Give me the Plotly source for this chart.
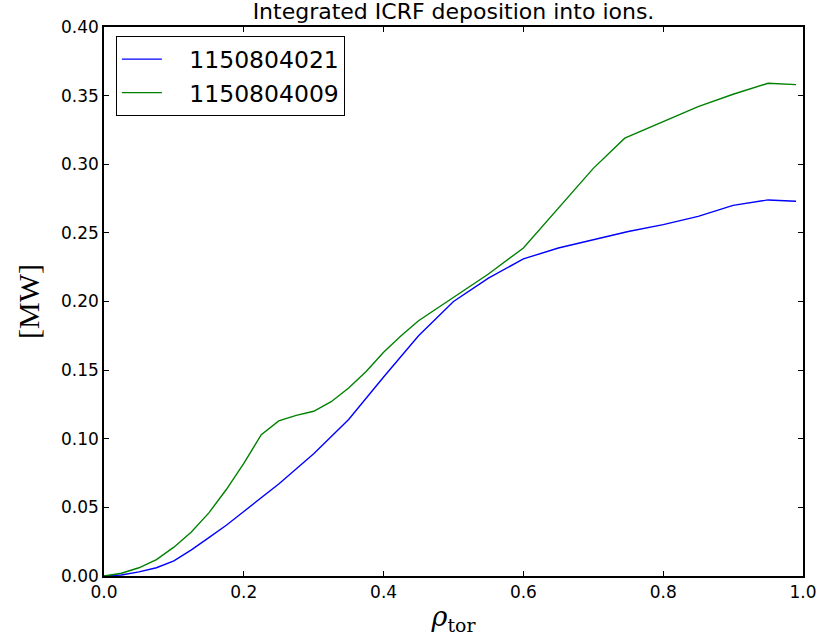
import plotly.graph_objects as go

rho_a = [0.0, 0.025, 0.05, 0.075, 0.1, 0.125, 0.15, 0.175, 0.2, 0.25, 0.3, 0.35, 0.4, 0.45, 0.5,
         0.55, 0.6, 0.65, 0.7, 0.75, 0.8, 0.85, 0.9, 0.95, 0.99]
p_a = [0.0, 0.0007, 0.003, 0.006, 0.011, 0.019, 0.028, 0.037, 0.047, 0.067, 0.089, 0.114, 0.145,
       0.175, 0.200, 0.217, 0.231, 0.239, 0.245, 0.251, 0.256, 0.262, 0.270, 0.274, 0.273]

rho_b = [0.0, 0.025, 0.05, 0.075, 0.1, 0.125, 0.15, 0.175, 0.2, 0.225, 0.25, 0.275, 0.3, 0.325,
         0.35, 0.375, 0.4, 0.425, 0.45, 0.5, 0.55, 0.6, 0.65, 0.7, 0.745, 0.8, 0.85, 0.9, 0.95, 0.99]
p_b = [0.0, 0.002, 0.006, 0.012, 0.021, 0.032, 0.046, 0.063, 0.082, 0.103, 0.113, 0.117, 0.120,
       0.127, 0.137, 0.149, 0.163, 0.175, 0.186, 0.203, 0.220, 0.239, 0.268, 0.297, 0.319, 0.331,
       0.342, 0.351, 0.359, 0.358]

names = ["1150804021", "1150804009"]
colors = ["#0000ff", "#008000"]

pad = "\u00a0" * 3

fig = go.Figure()
fig.add_trace(go.Scatter(x=rho_a, y=p_a, mode="lines", name=pad + names[0],
                         line=dict(color=colors[0], width=1.4)))
fig.add_trace(go.Scatter(x=rho_b, y=p_b, mode="lines", name=pad + names[1],
                         line=dict(color=colors[1], width=1.4)))

axis_common = dict(showgrid=False, zeroline=False, showline=True, linecolor="black",
                   linewidth=1.5, mirror="allticks", ticks="inside", ticklen=5,
                   tickcolor="black", tickfont=dict(family="DejaVu Sans", size=17, color="black"))

fig.update_layout(
    width=829, height=643,
    margin=dict(l=104, r=16, t=27, b=67),
    paper_bgcolor="white", plot_bgcolor="white",
    title=dict(text="Integrated ICRF deposition into ions.", x=0.5, xanchor="center",
               xref="paper", y=0.982, yanchor="middle",
               font=dict(family="DejaVu Sans", size=22, color="black")),
    xaxis=dict(range=[0, 1], tickvals=[0, 0.2, 0.4, 0.6, 0.8, 1.0],
               ticktext=["0.0", "0.2", "0.4", "0.6", "0.8", "1.0"],
               title=dict(text="<i>ρ</i><sub>tor</sub>", standoff=6,
                          font=dict(family="DejaVu Serif", size=27, color="black")),
               **axis_common),
    yaxis=dict(range=[0, 0.4], tickvals=[0, 0.05, 0.1, 0.15, 0.2, 0.25, 0.3, 0.35, 0.4],
               tickformat=".2f",
               title=dict(text="[MW]", standoff=12,
                          font=dict(family="Liberation Serif", size=30, color="black")),
               **axis_common),
    legend=dict(x=0.017, y=0.983, xanchor="left", yanchor="top",
                bordercolor="black", borderwidth=1, bgcolor="white",
                font=dict(family="DejaVu Sans", size=23.5, color="black"),
                itemwidth=40, tracegroupgap=0),
    showlegend=True,
)

fig.write_html("out.html")
